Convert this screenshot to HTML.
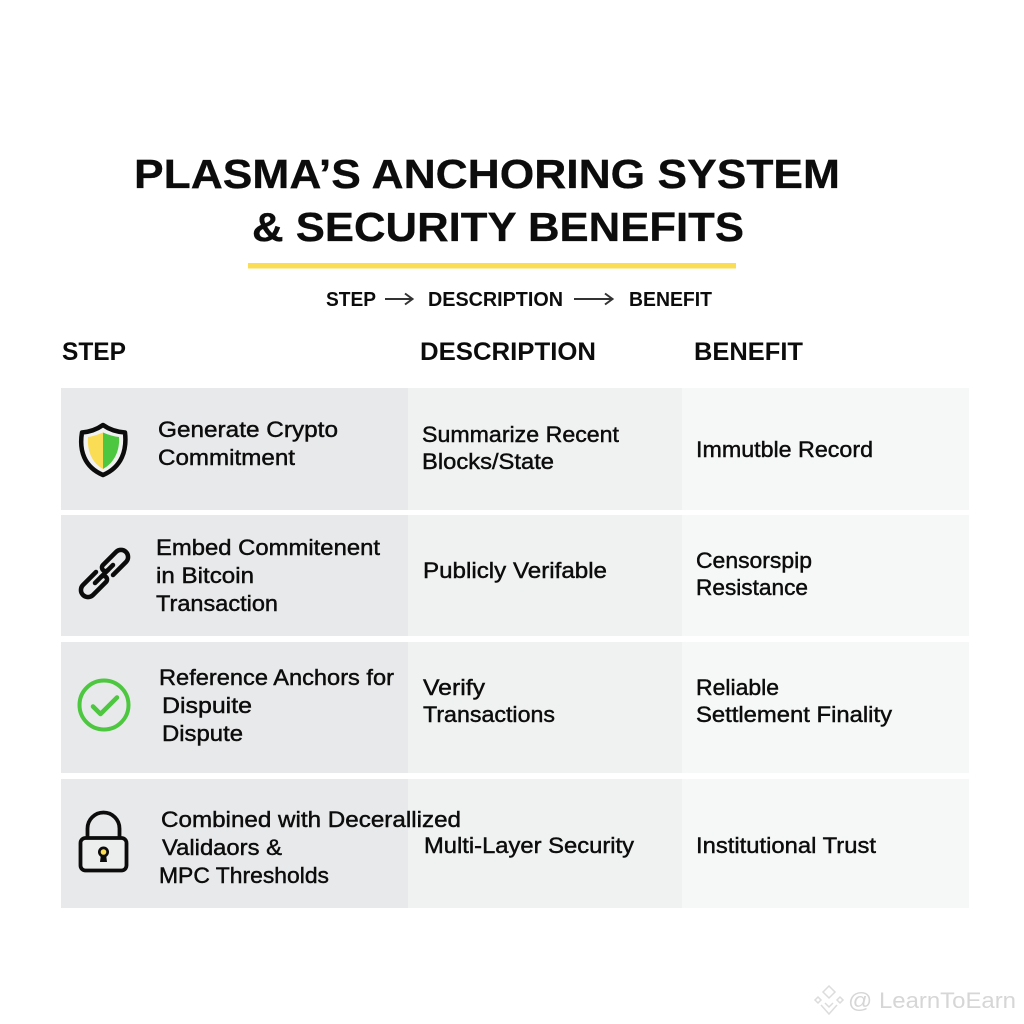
<!DOCTYPE html>
<html><head><meta charset="utf-8"><style>
html,body{margin:0;padding:0;background:#fff}
svg{display:block}
text{font-family:"Liberation Sans",sans-serif;fill:#0c0c0c}
.t{font-weight:700;font-size:41px;stroke:#0c0c0c;stroke-width:.3}
.f{font-weight:700;font-size:20px}
.h{font-weight:700;font-size:25px}
.c{font-size:22.5px;stroke:#0c0c0c;stroke-width:.45}
</style></head><body>
<svg width="1024" height="1024" viewBox="0 0 1024 1024" xmlns="http://www.w3.org/2000/svg">
<rect width="1024" height="1024" fill="#fff"/>
<text class="t" x="134" y="188" textLength="706" lengthAdjust="spacingAndGlyphs">PLASMA’S ANCHORING SYSTEM</text>
<text class="t" x="252" y="241" textLength="492" lengthAdjust="spacingAndGlyphs">&amp; SECURITY BENEFITS</text>
<rect x="248" y="263" width="488" height="5.5" fill="#fbdc55"/>

<text class="f" x="326" y="306" textLength="50" lengthAdjust="spacingAndGlyphs">STEP</text>
<path d="M385 299H412M405 293.500L412.500 299L405 304.500" fill="none" stroke="#333" stroke-width="2"/>
<text class="f" x="428" y="306" textLength="135" lengthAdjust="spacingAndGlyphs">DESCRIPTION</text>
<path d="M574 299H612M605 293.500L612.500 299L605 304.500" fill="none" stroke="#333" stroke-width="2"/>
<text class="f" x="629" y="306" textLength="83" lengthAdjust="spacingAndGlyphs">BENEFIT</text>

<text class="h" x="62" y="360" textLength="64" lengthAdjust="spacingAndGlyphs">STEP</text>
<text class="h" x="420" y="360" textLength="176" lengthAdjust="spacingAndGlyphs">DESCRIPTION</text>
<text class="h" x="694" y="360" textLength="109" lengthAdjust="spacingAndGlyphs">BENEFIT</text>

<!-- Rows -->
<g>
<rect x="61" y="388" width="347" height="122" fill="#e8e9ea"/>
<rect x="408" y="388" width="274" height="122" fill="#f0f1f1"/>
<rect x="682" y="388" width="287" height="122" fill="#f6f7f7"/>
<rect x="61" y="515" width="347" height="121" fill="#e8e9ea"/>
<rect x="408" y="515" width="274" height="121" fill="#f0f1f1"/>
<rect x="682" y="515" width="287" height="121" fill="#f6f7f7"/>
<rect x="61" y="642" width="347" height="131" fill="#e8e9ea"/>
<rect x="408" y="642" width="274" height="131" fill="#f0f1f1"/>
<rect x="682" y="642" width="287" height="131" fill="#f6f7f7"/>
<rect x="61" y="779" width="347" height="129" fill="#e8e9ea"/>
<rect x="408" y="779" width="274" height="129" fill="#f0f1f1"/>
<rect x="682" y="779" width="287" height="129" fill="#f6f7f7"/>
</g>

<!-- Shield -->
<path d="M103 425C110 430 118 432 125 432.500C127 450 122 467 103 475C84 467 79 450 82 432.500C88 432 96 430 103 425Z" fill="#f1f1f1" stroke="#0c0c0c" stroke-width="4.500" stroke-linejoin="round"/>
<path d="M103 432.500C97 435 92 436.500 88 437C87 451 92 463 103 469Z" fill="#fbdc55"/>
<path d="M103 432.500C109 435 114 436.500 119 437C120 451 114 463 103 469Z" fill="#4cc73f"/>

<!-- Chain -->
<g fill="none" stroke="#0c0c0c" stroke-width="4.500" stroke-linecap="round">
<path d="M113 575L126 562A7 7 0 0 0 116 552L103 565A3.500 3.500 0 0 0 108 570"/>
<path d="M96 572L83 585A7 7 0 0 0 93 595L106 582A3.500 3.500 0 0 0 101 577"/>
<path d="M113 565L95 583"/>
</g>

<!-- Check -->
<circle cx="104" cy="705" r="24.500" fill="none" stroke="#4cc73f" stroke-width="4"/>
<path d="M93 706.500L100.500 714L117 697.500" fill="none" stroke="#4cc73f" stroke-width="4.500" stroke-linecap="round" stroke-linejoin="round"/>

<!-- Lock -->
<path d="M87.500 838V828.500A16 16 0 0 1 119.500 828.500V838" fill="none" stroke="#0c0c0c" stroke-width="3.800"/>
<rect x="80.500" y="838" width="46" height="32.500" rx="5" fill="#eceded" stroke="#0c0c0c" stroke-width="3.800"/>
<circle cx="103.500" cy="852" r="5.500" fill="#0c0c0c"/>
<path d="M101 854H106L107 862H100Z" fill="#0c0c0c"/>
<circle cx="103.500" cy="852" r="2.800" fill="#fbdc55"/>

<!-- Col 1 -->
<text class="c" x="158" y="437" textLength="180" lengthAdjust="spacingAndGlyphs">Generate Crypto</text>
<text class="c" x="158" y="465" textLength="137" lengthAdjust="spacingAndGlyphs">Commitment</text>
<text class="c" x="156" y="555" textLength="224" lengthAdjust="spacingAndGlyphs">Embed Commitenent</text>
<text class="c" x="156" y="583" textLength="98" lengthAdjust="spacingAndGlyphs">in Bitcoin</text>
<text class="c" x="156" y="611" textLength="122" lengthAdjust="spacingAndGlyphs">Transaction</text>
<text class="c" x="159" y="685" textLength="235" lengthAdjust="spacingAndGlyphs">Reference Anchors for</text>
<text class="c" x="162" y="713" textLength="90" lengthAdjust="spacingAndGlyphs">Dispuite</text>
<text class="c" x="162" y="741" textLength="81" lengthAdjust="spacingAndGlyphs">Dispute</text>
<text class="c" x="161" y="827" textLength="300" lengthAdjust="spacingAndGlyphs">Combined with Decerallized</text>
<text class="c" x="162" y="855" textLength="120" lengthAdjust="spacingAndGlyphs">Validaors &amp;</text>
<text class="c" x="159" y="883" textLength="170" lengthAdjust="spacingAndGlyphs">MPC Thresholds</text>

<!-- Col 2 -->
<text class="c" x="422" y="442" textLength="197" lengthAdjust="spacingAndGlyphs">Summarize Recent</text>
<text class="c" x="422" y="469" textLength="132" lengthAdjust="spacingAndGlyphs">Blocks/State</text>
<text class="c" x="423" y="578" textLength="184" lengthAdjust="spacingAndGlyphs">Publicly Verifable</text>
<text class="c" x="423" y="695" textLength="62" lengthAdjust="spacingAndGlyphs">Verify</text>
<text class="c" x="423" y="722" textLength="132" lengthAdjust="spacingAndGlyphs">Transactions</text>
<text class="c" x="424" y="853" textLength="210" lengthAdjust="spacingAndGlyphs">Multi-Layer Security</text>

<!-- Col 3 -->
<text class="c" x="696" y="457" textLength="177" lengthAdjust="spacingAndGlyphs">Immutble Record</text>
<text class="c" x="696" y="568" textLength="116" lengthAdjust="spacingAndGlyphs">Censorspip</text>
<text class="c" x="696" y="595" textLength="112" lengthAdjust="spacingAndGlyphs">Resistance</text>
<text class="c" x="696" y="695" textLength="83" lengthAdjust="spacingAndGlyphs">Reliable</text>
<text class="c" x="696" y="722" textLength="196" lengthAdjust="spacingAndGlyphs">Settlement Finality</text>
<text class="c" x="696" y="853" textLength="180" lengthAdjust="spacingAndGlyphs">Institutional Trust</text>

<!-- Watermark -->
<g fill="none" stroke="#dcdcdc" stroke-width="1.500">
<path d="M829 986L835 992L829 998L823 992Z"/>
<path d="M818 997L821 1000L818 1003L815 1000ZM840 997L843 1000L840 1003L837 1000Z"/>
<path d="M821 1005L829 1014L837 1005M825 1003L829 1007L833 1003"/>
</g>
<text x="848" y="1008" font-size="22" textLength="168" lengthAdjust="spacingAndGlyphs" style="fill:#d6d6d6">@ LearnToEarn</text>
</svg>
</body></html>
